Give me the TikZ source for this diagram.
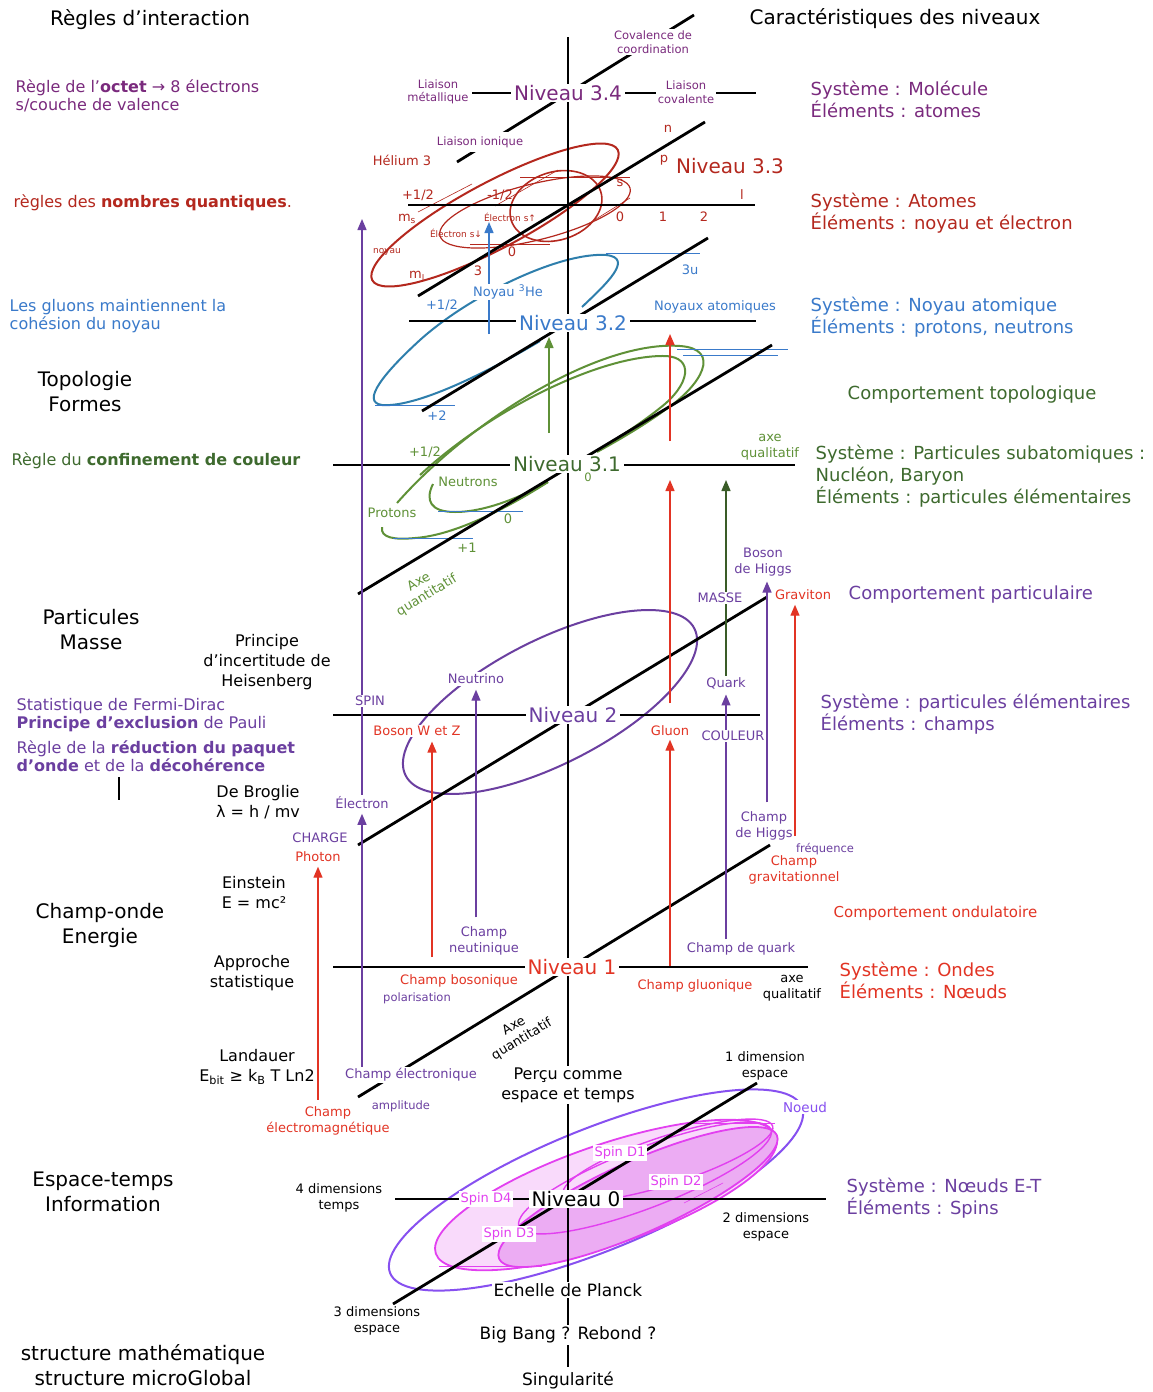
\documentclass[tikz,border=0pt]{standalone}
\usepackage{fontspec}
\setmainfont{DejaVu Sans}
\usetikzlibrary{arrows.meta}
\definecolor{cmol}{RGB}{122,42,125}
\definecolor{catm}{RGB}{180,40,30}
\definecolor{cnuc}{RGB}{58,122,202}
\definecolor{cnucl}{RGB}{46,126,172}
\definecolor{cgrn}{RGB}{62,106,46}
\definecolor{cgrl}{RGB}{95,145,55}
\definecolor{cdgr}{RGB}{58,92,40}
\definecolor{cvio}{RGB}{107,63,160}
\definecolor{cred}{RGB}{226,52,36}
\definecolor{cmag}{RGB}{226,64,240}
\definecolor{cnoe}{RGB}{135,80,240}
\definecolor{cpka}{RGB}{249,218,251}
\definecolor{cpkb}{RGB}{236,172,243}
\newcommand\szA{\fontsize{20}{25}\selectfont}
\newcommand\szB{\fontsize{18}{22}\selectfont}
\newcommand\szL{\fontsize{16}{18}\selectfont}
\newcommand\szC{\fontsize{16}{20}\selectfont}
\newcommand\szK{\fontsize{17}{20}\selectfont}
\newcommand\szD{\fontsize{13}{15.5}\selectfont}
\newcommand\szE{\fontsize{11.5}{13.5}\selectfont}
\newcommand\szF{\fontsize{9}{11}\selectfont}
\pgfdeclarelayer{paper}
\pgfdeclarelayer{under}
\pgfsetlayers{paper,under,main}
\begin{document}
\begin{tikzpicture}[x=1pt,y=-1pt,
  lbl/.style={inner sep=1.5pt, fill=white, align=center, font=\szD},
  ann/.style={inner sep=1pt, align=center, font=\szD},
  axis/.style={line width=2.8pt, black},
  arr/.style={-{Triangle[width=9pt,length=11pt]}, line width=1.4pt},
  crv/.style={line width=2pt},
  fine/.style={line width=0.6pt}]
\useasboundingbox (0,0) rectangle (1152,1392);

% ---------- column headers ----------
\node[lbl,font=\szA] (hrules) at (150,20) {Règles d’interaction};
\node[lbl,font=\szA] (hlevels) at (895,19) {Caractéristiques des niveaux};
\node[lbl,font=\szA] (htopo) at (85,392) {Topologie\\Formes};
\node[lbl,font=\szA] (hpart) at (91,630) {Particules\\Masse};
\node[lbl,font=\szA] (hchamp) at (100,925) {Champ-onde\\Energie};
\node[lbl,font=\szA] (hespace) at (103,1192) {Espace-temps\\Information};
\node[lbl,font=\szA] (hstruct) at (143,1365) {structure mathématique\\structure microGlobal};

% ---------- interaction rules ----------
\node[lbl,anchor=west,align=left,font=\szL,text=cmol] (roctet) at (14,96) {Règle de l’\textbf{octet} → 8 électrons\\s/couche de valence};
\node[lbl,anchor=west,font=\szL,text=catm] (rquant) at (12,203) {règles des \textbf{nombres quantiques}.};
\node[lbl,anchor=west,align=left,font=\szL,text=cnuc] (rgluon) at (8,316) {Les gluons maintiennent la\\cohésion du noyau};
\node[lbl,anchor=west,font=\szL,text=cgrn] (rconf) at (10,461) {Règle du \textbf{confinement de couleur}};
\node[lbl,anchor=west,align=left,font=\szL,text=cvio] (rpauli) at (15,715) {Statistique de Fermi-Dirac\\\textbf{Principe d’exclusion} de Pauli};
\node[lbl,anchor=west,align=left,font=\szL,text=cvio] (rdeco) at (15,756) {Règle de la \textbf{réduction du paquet}\\\textbf{d’onde} et de la \textbf{décohérence}};

% ---------- physical laws ----------
\node[lbl,font=\szC] (heis) at (267,662) {Principe\\d’incertitude de\\Heisenberg};
\node[lbl,font=\szC] (broglie) at (258,802) {De Broglie\\λ = h / mv};
\node[lbl,font=\szC] (einst) at (254,893) {Einstein\\E = mc²};
\node[lbl,font=\szC] (approche) at (252,973) {Approche\\statistique};
\node[lbl,font=\szC] (landauer) at (257,1067) {Landauer\\E\textsubscript{bit} ≥ k\textsubscript{B} T Ln2};

% ---------- level characteristics ----------
\node[lbl,anchor=west,align=left,font=\szB,text=cmol] (smol) at (809,99) {Système : Molécule\\Éléments : atomes};
\node[lbl,anchor=west,align=left,font=\szB,text=catm] (satom) at (809,213) {Système : Atomes\\Éléments : noyau et électron};
\node[lbl,anchor=west,align=left,font=\szB,text=cnuc] (snoy) at (809,317) {Système : Noyau atomique\\Éléments : protons, neutrons};
\node[lbl,anchor=west,font=\szB,text=cgrn] (ctopo) at (846,395) {Comportement topologique};
\node[lbl,anchor=west,align=left,font=\szB,text=cgrn] (ssub) at (814,476) {Système : Particules subatomiques :\\Nucléon, Baryon\\Éléments : particules élémentaires};
\node[lbl,anchor=west,font=\szB,text=cvio] (cpart) at (847,595) {Comportement particulaire};
\node[lbl,anchor=west,align=left,font=\szB,text=cvio] (spel) at (819,714) {Système : particules élémentaires\\Éléments : champs};
\node[lbl,anchor=west,font=\fontsize{15}{18}\selectfont,text=cred] (cond) at (832,913) {Comportement ondulatoire};
\node[lbl,anchor=west,align=left,font=\szB,text=cred] (sonde) at (838,980) {Système : Ondes\\Éléments : Nœuds};
\node[lbl,anchor=west,align=left,font=\szB,text=cvio] (snoeud) at (845,1198) {Système : Nœuds E-T\\Éléments : Spins};

% ---------- level 3.4 ----------
\node[lbl,font=\szA,text=cmol,inner xsep=3pt] (n34) at (568,93) {Niveau 3.4};
\node[lbl,font=\szE,text=cmol] (lmet) at (438,92) {Liaison\\métallique};
\node[lbl,font=\szE,text=cmol] (lcov) at (686,92) {Liaison\\covalente};
\node[lbl,font=\szE,text=cmol] (lcoord) at (653,42) {Covalence de\\coordination};
\node[lbl,font=\szE,text=cmol,inner ysep=4pt] (lion) at (480,142) {Liaison ionique};

% ---------- level 3.3 ----------
\node[ann,anchor=west,font=\szA,text=catm] (n33) at (675,166) {Niveau 3.3};
\node[ann,text=catm] (helium) at (402,160) {Hélium 3};
\node[ann,text=catm] (qn) at (668,129) {n};
\node[ann,text=catm] (qp) at (664,160) {p};
\node[ann,text=catm] (qms) at (407,219) {m\textsubscript{s}};
\node[ann,text=catm] (qpl) at (418,195) {+1/2};
\node[ann,text=catm] (qmi) at (500,195) {-1/2};
\node[ann,text=catm] (ql) at (742,195) {l};
\node[ann,text=catm] (qs) at (620,183) {s};
\node[ann,text=catm] (ql0) at (620,217) {0};
\node[ann,text=catm] (ql1) at (663,217) {1};
\node[ann,text=catm] (ql2) at (704,217) {2};
\node[ann,text=catm,font=\szF] (qnoy) at (387,252) {noyau};
\node[ann,text=catm] (qm0) at (512,252) {0};
\node[ann,text=catm] (qm3) at (478,271) {3};
\node[ann,text=catm] (qml) at (417,276) {m\textsubscript{l}};
\node[ann,text=catm,font=\szF] (qeup) at (510,217) {Électron s↑};
\node[ann,text=catm,font=\szF] (qedn) at (456,233) {Électron s↓};

% ---------- level 3.2 ----------
\node[lbl,font=\szA,text=cnuc,inner xsep=3pt] (n32) at (573,323) {Niveau 3.2};
\node[lbl,text=cnuc] (he3) at (508,292) {Noyau \textsuperscript{3}He};
\node[ann,text=cnuc] (bpl) at (442,305) {+1/2};
\node[ann,text=cnuc] (b3u) at (690,270) {3u};
\node[ann,text=cnuc] (noyx) at (715,307) {Noyaux atomiques};
\node[ann,text=cnuc] (bp2) at (437,416) {+2};

% ---------- level 3.1 ----------
\node[lbl,font=\szA,text=cgrn,inner xsep=3pt] (n31) at (567,464) {Niveau 3.1};
\node[ann,text=cgrl] (gpl) at (425,452) {+1/2};
\node[lbl,text=cgrl] (neutrons) at (468,482) {Neutrons};
\node[lbl,text=cgrl] (protons) at (392,513) {Protons};
\node[ann,text=cgrl] (gz) at (508,519) {0};
\node[ann,text=cgrl] (gp1) at (467,548) {+1};
\node[ann,text=cgrl,font=\szE] (gzz) at (588,477) {0};
\node[lbl,text=cgrl] (gqual) at (770,447) {axe\\qualitatif};
\node[ann,text=cgrl,rotate=31] (gquant) at (423,589) {Axe\\quantitatif};

% ---------- level 2 ----------
\node[lbl,font=\szA,text=cvio,inner xsep=3pt] (n2) at (573,715) {Niveau 2};
\node[lbl,text=cvio] (neutrino) at (476,679) {Neutrino};
\node[lbl,text=cvio] (spin) at (370,701) {SPIN};
\node[lbl,text=cred] (boswz) at (417,731) {Boson W et Z};
\node[lbl,text=cred] (gluon) at (670,731) {Gluon};
\node[lbl,text=cvio] (couleur) at (733,736) {COULEUR};
\node[lbl,text=cvio] (quark) at (726,683) {Quark};
\node[lbl,text=cvio] (masse) at (720,598) {MASSE};
\node[lbl,text=cvio] (higgs) at (763,562) {Boson\\de Higgs};
\node[lbl,text=cred] (graviton) at (803,595) {Graviton};
\node[lbl,text=cvio] (elec) at (362,803) {Électron};
\node[lbl,text=cvio] (charge) at (320,838) {CHARGE};
\node[lbl,text=cred] (photon) at (318,857) {Photon};
\node[lbl,text=cvio] (chhiggs) at (764,826) {Champ\\de Higgs};
\node[lbl,text=cvio,font=\szE] (freq) at (825,849) {fréquence};
\node[ann,text=cred] (chgrav) at (794,870) {Champ\\gravitationnel};
\node[lbl,text=cvio] (chneut) at (484,941) {Champ\\neutinique};
\node[lbl,text=cvio] (chquark) at (741,949) {Champ de quark};

% ---------- level 1 ----------
\node[lbl,font=\szA,text=cred,inner xsep=3pt] (n1) at (572,967) {Niveau 1};
\node[lbl,text=cred] (chbos) at (459,981) {Champ bosonique};
\node[lbl,text=cvio,font=\szE] (polar) at (417,998) {polarisation};
\node[lbl,text=cred] (chglu) at (695,986) {Champ gluonique};
\node[lbl] (bqual) at (792,988) {axe\\qualitatif};
\node[ann,rotate=31] (bquant) at (518,1033) {Axe\\quantitatif};
\node[lbl,text=cvio] (chelec) at (411,1075) {Champ électronique};
\node[ann,text=cred] (chem) at (328,1121) {Champ\\électromagnétique};
\node[lbl,text=cvio,font=\szE] (ampl) at (401,1106) {amplitude};

% ---------- level 0 ----------
\node[lbl,font=\szC] (percu) at (568,1085) {Perçu comme\\espace et temps};
\node[lbl] (dim1) at (765,1066) {1 dimension\\espace};
\node[lbl,text=cnoe,font=\fontsize{13.5}{16}\selectfont] (noeud) at (805,1107) {Noeud};
\node[lbl,font=\szA,inner xsep=3pt] (n0) at (576,1199) {Niveau 0};
\node[lbl,text=cmag] (sd1) at (620,1153) {Spin D1};
\node[lbl,text=cmag] (sd2) at (676,1182) {Spin D2};
\node[lbl,text=cmag] (sd4) at (486,1199) {Spin D4};
\node[lbl,text=cmag] (sd3) at (509,1234) {Spin D3};
\node[lbl] (dim4) at (339,1198) {4 dimensions\\temps};
\node[lbl] (dim2) at (766,1227) {2 dimensions\\espace};
\node[lbl] (dim3) at (377,1321) {3 dimensions\\espace};
\node[lbl,font=\szK] (planck) at (568,1290) {Echelle de Planck};
\node[lbl,font=\szK] (bigbang) at (568,1335) {Big Bang ? Rebond ?};
\node[lbl,font=\szK] (sing) at (568,1380) {Singularité};

% ---------- free arrow ends ----------
\coordinate (spintop) at (362,219);
\coordinate (wzfoot) at (432,957);
\coordinate (glufoot) at (670,966);
\coordinate (xh) at (767,0);
\coordinate (gravfoot) at (795,836);
\coordinate (glutail) at (670,703);
\coordinate (glutop) at (670,480);
\coordinate (qtop) at (726,480);
\coordinate (rfoot) at (670,441);
\coordinate (rtop) at (670,334);
\coordinate (gfoot) at (549,433);
\coordinate (gtop) at (549,337);
\coordinate (bfoot) at (489,334);
\coordinate (btop) at (489,222);

\begin{pgfonlayer}{paper}
  \fill[white] (0,0) rectangle (1152,1392);
\end{pgfonlayer}

\begin{pgfonlayer}{under}
  % level 0 : knot and spins
  \draw[cnoe, crv, rotate around={22:(596,1190)}] (596,1190) ellipse [x radius=222pt, y radius=61pt];
  \filldraw[draw=cmag, fill=cpka, line width=1.8pt, rotate around={19:(606,1195)}] (606,1195) ellipse [x radius=180pt, y radius=50pt];
  \filldraw[draw=cmag, fill=cpkb, line width=1.8pt, rotate around={24:(638,1197)}] (638,1197) ellipse [x radius=152pt, y radius=36pt];
  \draw[cmag, line width=1.4pt, rotate around={21:(645,1178)}] (645,1178) ellipse [x radius=135pt, y radius=30pt];
  \draw[cmag, line width=1.4pt, rotate around={18:(668,1160)}] (668,1160) ellipse [x radius=110pt, y radius=24pt];
  \draw[cmag, fine] (680,1123) -- (775,1123);
  \draw[cmag, fine] (439,1266) -- (542,1266);
  \draw[cmag, fine] (684,1203) -- (723,1183);

  % level 2 : particle loop
  \draw[cvio, crv, rotate around={27:(550,702)}] (550,702) ellipse [x radius=162pt, y radius=62pt];

  % level 3.1 : nucleon loops
  \draw[cgrl, crv] (397,503) .. controls (470,420) and (600,340) .. (680,346) .. controls (722,349) and (702,385) .. (665,410) .. controls (640,428) and (615,442) .. (597,452);
  \draw[cgrl, crv] (420,475) .. controls (490,410) and (600,355) .. (665,356) .. controls (695,357) and (690,385) .. (660,408) .. controls (645,420) and (630,430) .. (612,442);
  \draw[cgrl, crv] (433,484) .. controls (425,500) and (430,512) .. (455,512) .. controls (490,512) and (530,492) .. (548,482);
  \draw[cgrl, crv] (382,527) .. controls (380,538) and (395,540) .. (415,538) .. controls (460,535) and (520,500) .. (548,482);
  \draw[cnuc, fine] (677,349) -- (788,349);
  \draw[cnuc, fine] (683,355) -- (778,355);
  \draw[cnuc, fine] (438,511) -- (523,511);
  \draw[cnuc, fine] (393,538) -- (473,538);

  % level 3.2 : nucleus loop
  \draw[cnucl, crv] (582,307) .. controls (605,285) and (635,258) .. (606,255) .. controls (560,252) and (470,295) .. (420,340) .. controls (385,372) and (360,402) .. (382,405) .. controls (420,408) and (500,365) .. (540,341);
  \draw[cnuc, fine] (606,253) -- (700,253);
  \draw[cnuc, fine] (375,405) -- (455,405);

  % level 3.3 : atom orbitals
  \draw[catm, crv, rotate around={28:(495,215)}] (495,215) ellipse [x radius=139pt, y radius=33pt];
  \draw[catm, line width=1.6pt, rotate around={18:(556,206)}] (556,206) ellipse [x radius=47pt, y radius=34pt];
  \draw[catm, line width=1.2pt, rotate around={14:(535,212)}] (535,212) ellipse [x radius=98pt, y radius=28pt];
  \draw[catm, fine] (520,177) -- (630,177);
  \draw[catm, fine] (470,244) -- (550,244);
  \draw[catm, fine] (418,212) -- (472,184);
  \draw[catm, fine] (495,206) -- (558,170);
  \draw[catm, fine] (588,224) -- (630,198);

  % axes
  \draw[axis] (568,37) -- (568,1367);
  \draw[axis] (472,93) -- (756,93);
  \draw[axis] (408,205) -- (755,205);
  \draw[axis] (409,321) -- (756,321);
  \draw[axis] (333,465) -- (795,465);
  \draw[axis] (333,715) -- (760,715);
  \draw[axis] (333,967) -- (808,967);
  \draw[axis] (395,1199) -- (826,1199);
  \draw[axis] (457,162) -- (694,15);
  \draw[axis] (418,296) -- (705,122);
  \draw[axis] (422,411) -- (708,238);
  \draw[axis] (358,594) -- (772,345);
  \draw[axis] (358,845) -- (767,597);
  \draw[axis] (358,1097) -- (770,845);
  \draw[axis] (393,1304) -- (757,1083);
  \draw[line width=1.2pt] (119,777) -- (119,800);

  % arrows
  \draw[arr,cvio,shorten >=3pt] (elec |- chelec.north) -- (elec.south);
  \draw[arr,cvio] (elec.north) -- (spintop);
  \draw[arr,cred,shorten <=6pt,shorten >=3pt] (photon |- chem.north) -- (photon.south);
  \draw[arr,cred,shorten >=4pt] (wzfoot) -- (wzfoot |- boswz.south);
  \draw[arr,cvio,shorten <=8pt,shorten >=4pt] (neutrino |- chneut.north) -- (neutrino.south);
  \draw[arr,cred,shorten >=2pt] (glufoot) -- (gluon.south);
  \draw[arr,cvio,shorten <=2pt,shorten >=4pt] (quark |- chquark.north) -- (quark.south);
  \draw[arr,cvio,shorten <=8pt,shorten >=4pt] (chhiggs.north -| xh) -- (higgs.south -| xh);
  \draw[arr,cred,shorten >=3pt] (gravfoot) -- (graviton.south -| gravfoot);
  \draw[arr,cred] (glutail) -- (glutop);
  \draw[arr,cdgr] (quark.north) -- (qtop);
  \draw[arr,cred] (rfoot) -- (rtop);
  \draw[arr,cgrl] (gfoot) -- (gtop);
  \draw[arr,cnuc] (bfoot) -- (btop);
\end{pgfonlayer}
\end{tikzpicture}
\end{document}
